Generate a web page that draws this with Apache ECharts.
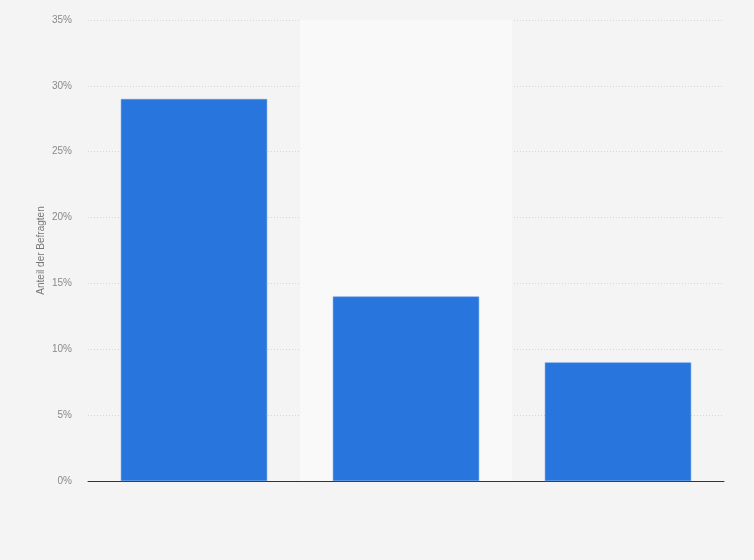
<!DOCTYPE html>
<html>
<head>
<meta charset="utf-8">
<script src="https://cdn.jsdelivr.net/npm/echarts@6/dist/echarts.min.js"></script>
<style>
html,body{margin:0;padding:0;background:#f4f4f4;}
#c{width:754px;height:560px;}
</style>
</head>
<body>
<div id="c"></div>
<script>
const categories = ['', '', ''];
const values = [29, 14, 9];
const yTicks = { min: 0, max: 35, interval: 5 };
const yAxisName = 'Anteil der Befragten';

const chart = echarts.init(document.getElementById('c'));
chart.setOption({
  backgroundColor: '#f4f4f4',
  animation: false,
  grid: { left: 88, right: 30, top: 20, bottom: 79 },
  xAxis: {
    type: 'category',
    data: categories,
    axisLine: { show: true, lineStyle: { color: '#333', width: 1 } },
    axisTick: { show: false },
    axisLabel: { show: false },
    splitArea: { show: true, areaStyle: { color: ['rgba(0,0,0,0)', '#f9f9f9'] } }
  },
  yAxis: {
    type: 'value',
    min: yTicks.min, max: yTicks.max, interval: yTicks.interval,
    name: yAxisName,
    nameLocation: 'middle',
    nameGap: 42,
    nameMoveOverlap: false,
    nameRotate: 90,
    nameTextStyle: { color: '#777', fontSize: 10, fontFamily: 'Arial, Liberation Sans, sans-serif' },
    axisLine: { show: false },
    axisTick: { show: false },
    axisLabel: { formatter: '{value}%', color: '#8a8a8a', fontSize: 10, margin: 16, fontFamily: 'Arial, Liberation Sans, sans-serif' },
    splitLine: { lineStyle: { color: '#d6d6d6', type: [1, 2] } }
  },
  series: [{
    type: 'bar',
    data: values,
    barWidth: '69%',
    itemStyle: { color: '#2876dd', borderColor: '#5a97e6', borderWidth: 0.5 }
  }]
});
</script>
</body>
</html>
